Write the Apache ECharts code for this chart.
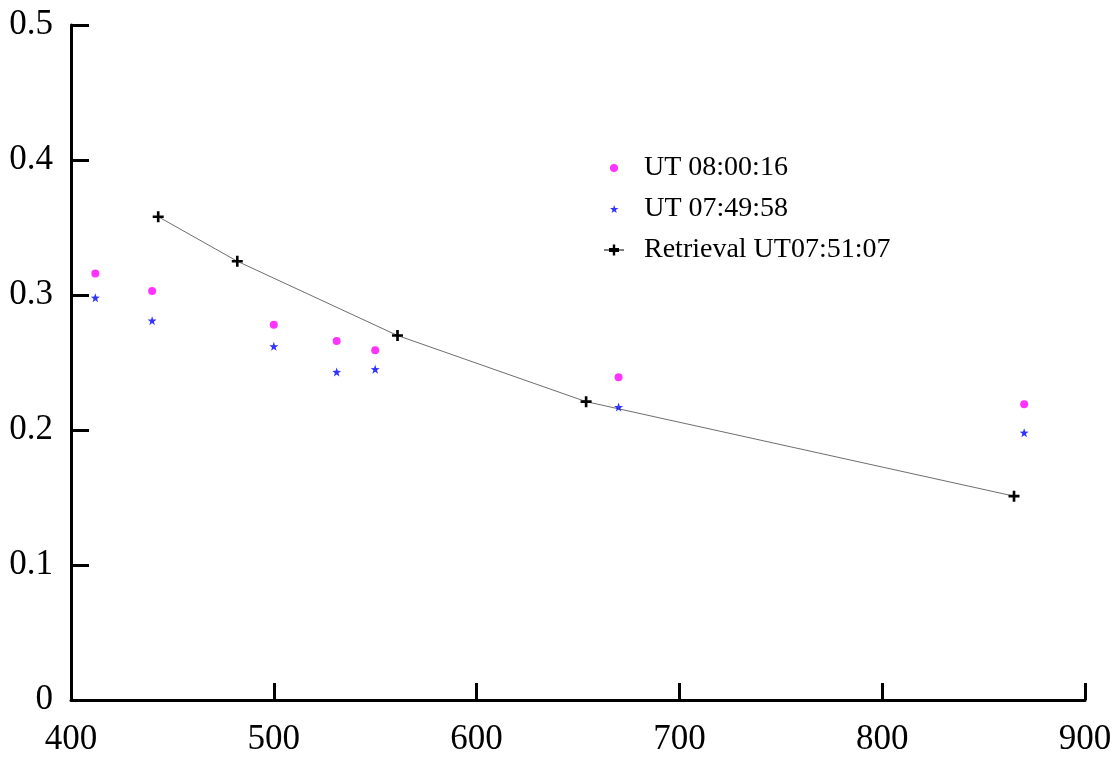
<!DOCTYPE html>
<html>
<head>
<meta charset="utf-8">
<title>Spectral comparison</title>
<script src="https://cdn.jsdelivr.net/npm/echarts@6/dist/echarts.min.js"></script>
<style>
  html, body { margin: 0; padding: 0; background: #fff; }
  #chart { width: 1115px; height: 757px; }
</style>
</head>
<body>
<div id="chart"></div>
<script>
// Wavelengths (x) and values (y) of the three series
const obsWavelengths = [412, 440, 500, 531, 550, 670, 870];
const ut080016 = [0.316, 0.303, 0.278, 0.266, 0.259, 0.239, 0.219];
const ut074958 = [0.298, 0.281, 0.262, 0.243, 0.245, 0.217, 0.198];
const retrievalWavelengths = [443, 482, 561, 654, 865];
const retrieval075107 = [0.358, 0.325, 0.270, 0.221, 0.151];

const seriesNames = ['UT 08:00:16', 'UT 07:49:58', 'Retrieval UT07:51:07'];
const xTicks = [400, 500, 600, 700, 800, 900];
const yTicks = [0, 0.1, 0.2, 0.3, 0.4, 0.5];

const FONT = 'Liberation Serif, "Times New Roman", serif';
const STAR = 'path://M10,0L12.35,6.76L19.51,6.91L13.8,11.24L15.88,18.09L10,14L4.12,18.09L6.2,11.24L0.49,6.91L7.65,6.76Z';
const PLUS = 'path://M3.8,0H6.2V3.8H10V6.2H6.2V10H3.8V6.2H0V3.8H3.8Z';
const PLUS_LINE = 'path://M0,5H5V3.6H8.8V0H11.2V3.6H15V5H20V5.9H15V7.4H11.2V11H8.8V7.4H5V5.9H0Z';

const pairs = (xs, ys) => xs.map((x, i) => [x, ys[i]]);

// One legend block per series so each icon gets its own size and place
function legendItem(name, icon, h, left, top) {
  return {
    data: [{ name: name, icon: icon }],
    orient: 'vertical',
    left: left,
    top: top,
    padding: 0,
    itemWidth: 50,
    itemHeight: h,
    symbolKeepAspect: true,
    textStyle: { fontFamily: FONT, fontSize: 28, lineHeight: 28, color: '#000' }
  };
}

const chart = echarts.init(document.getElementById('chart'), null, { renderer: 'canvas' });
chart.setOption({
  backgroundColor: '#ffffff',
  animation: false,
  grid: { left: 71, right: 30, top: 25, bottom: 57, containLabel: false },
  legend: [
    legendItem(seriesNames[0], 'circle', 8, 610, 154),
    legendItem(seriesNames[1], STAR, 8, 610, 195),
    legendItem(seriesNames[2], PLUS_LINE, 11, 604, 236)
  ],
  xAxis: {
    type: 'value',
    min: xTicks[0],
    max: xTicks[xTicks.length - 1],
    interval: 100,
    axisLine: { show: true, lineStyle: { color: '#000', width: 3 } },
    axisTick: { show: true, inside: true, length: 17, lineStyle: { color: '#000', width: 3 } },
    axisLabel: { color: '#000', fontFamily: FONT, fontSize: 35, margin: 22 },
    splitLine: { show: false }
  },
  yAxis: {
    type: 'value',
    min: yTicks[0],
    max: yTicks[yTicks.length - 1],
    interval: 0.1,
    axisLine: { show: true, lineStyle: { color: '#000', width: 3 } },
    axisTick: { show: true, inside: true, length: 18, lineStyle: { color: '#000', width: 3 } },
    axisLabel: { color: '#000', fontFamily: FONT, fontSize: 35, margin: 18 },
    splitLine: { show: false }
  },
  series: [
    {
      name: seriesNames[2],
      type: 'line',
      data: pairs(retrievalWavelengths, retrieval075107),
      symbol: PLUS,
      symbolSize: 11,
      itemStyle: { color: '#000' },
      lineStyle: { color: '#6e6e6e', width: 1 },
      z: 2
    },
    {
      name: seriesNames[0],
      type: 'scatter',
      data: pairs(obsWavelengths, ut080016),
      symbol: 'circle',
      symbolSize: 8,
      itemStyle: { color: '#ff00ff' },
      z: 3
    },
    {
      name: seriesNames[1],
      type: 'scatter',
      data: pairs(obsWavelengths, ut074958),
      symbol: STAR,
      symbolSize: 9,
      itemStyle: { color: '#0000ff' },
      z: 3
    }
  ]
});
</script>
</body>
</html>
